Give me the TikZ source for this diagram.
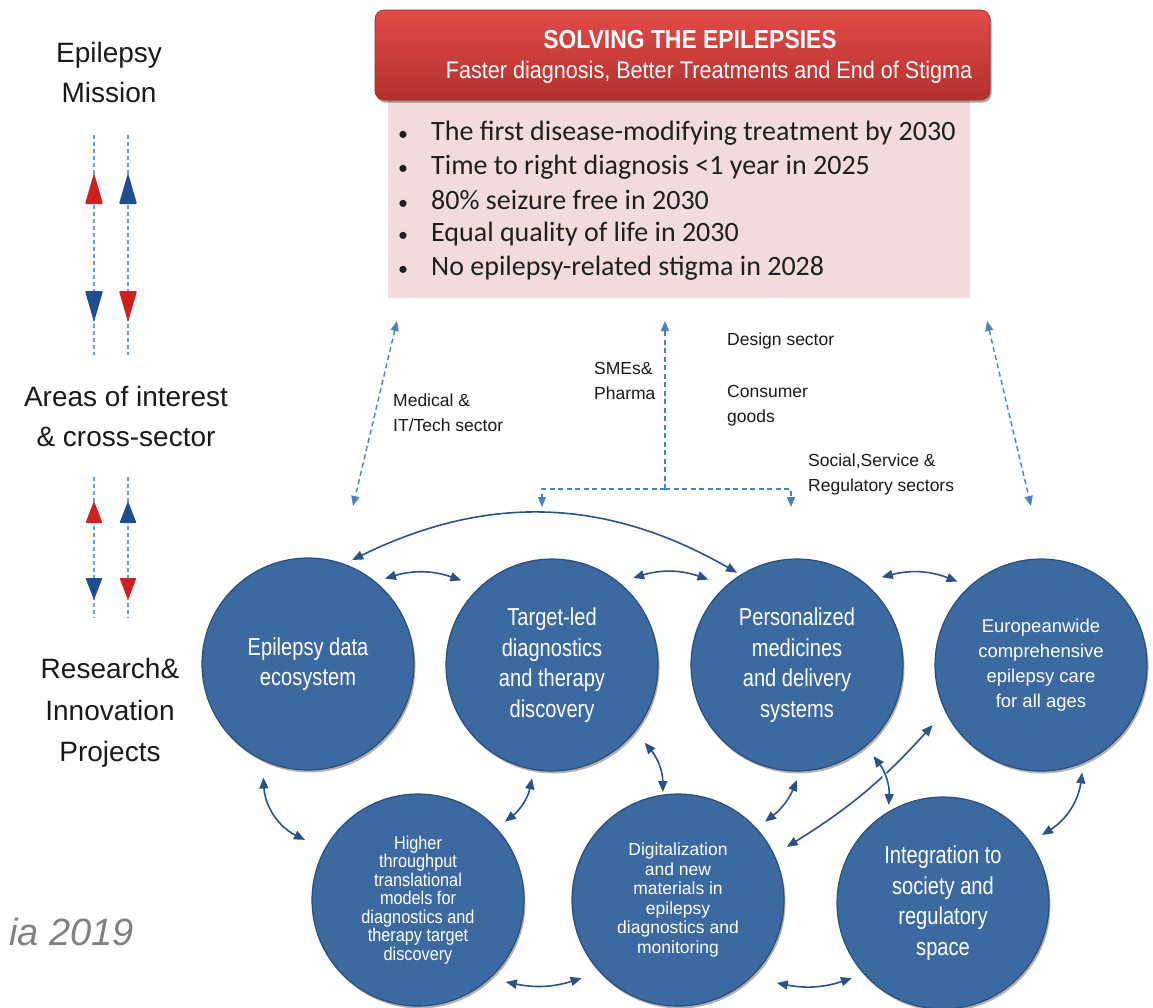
\documentclass[tikz,border=0pt]{standalone}
\usepackage{fontspec}
\setmainfont{Liberation Sans}
\newfontfamily\narrowf[FakeStretch=0.82]{Liberation Sans}
\newfontfamily\narrowh[FakeStretch=0.88]{Liberation Sans}
\newfontfamily\narrowk[FakeStretch=0.9]{Liberation Sans}
\newfontfamily\calib{Carlito}
\usetikzlibrary{arrows.meta,calc,shadows}
\definecolor{circblue}{HTML}{3B69A0}
\definecolor{circedge}{HTML}{2B4F7D}
\definecolor{connc}{HTML}{2A5286}
\definecolor{dashblue}{HTML}{4A80C0}
\definecolor{lightdash}{HTML}{6E9BD6}
\definecolor{hdrtop}{HTML}{E24C48}
\definecolor{hdrbot}{HTML}{B5302E}
\definecolor{pinkfill}{HTML}{F2DCDB}
\definecolor{trired}{HTML}{D01F1F}
\definecolor{triblue}{HTML}{1F4E8F}
\begin{document}
\begin{tikzpicture}[x=1pt,y=-1pt,
  lbl/.style={font=\fontsize{28}{40}\selectfont, text=black!90, align=center, inner sep=0pt},
  sect/.style={font=\fontsize{17.5}{25}\selectfont, text=black!90, align=left, anchor=west, inner sep=0pt},
  circ/.style={circle, minimum size=212pt, inner sep=0pt, fill=circblue, draw=circedge, line width=1.2pt,
    text=white, align=center, drop shadow={shadow xshift=1.5pt, shadow yshift=-2.5pt, opacity=0.3, fill=black}},
  bigtxt/.style={font=\narrowf\fontsize{24.5}{30.5}\selectfont},
  conn/.style={draw=connc, line width=1.6pt, arrows={Triangle[length=11pt,width=9pt]-Triangle[length=11pt,width=9pt]}},
  dsh/.style={draw=dashblue, line width=1.4pt, dash pattern=on 5pt off 3.5pt},
  dboth/.style={arrows={Triangle[length=10pt,width=8pt]-Triangle[length=10pt,width=8pt]}},
  dend/.style={arrows={-Triangle[length=10pt,width=8pt]}},
  ldash/.style={draw=lightdash, line width=1.3pt, dash pattern=on 4pt off 3pt},
  bul/.style={font=\calib\fontsize{28}{34}\selectfont, text=black!88, anchor=west, inner sep=0pt},
  hdrtxt/.style={text=white, inner sep=0pt}
]
\useasboundingbox (0,0) rectangle (1153,1007);

% ---------- left column ----------
\node[lbl] (mission) at (109,72) {Epilepsy\\Mission};
\node[lbl] (areas) at (126,416) {Areas of interest\\\& cross-sector};
\node[lbl,font=\fontsize{28}{41.5}\selectfont] (research) at (110,713) {Research\&\\Innovation\\Projects};

\coordinate (la1) at (94,135); \coordinate (la2) at (94,355);
\coordinate (lb1) at (128,135); \coordinate (lb2) at (128,355);
\draw[ldash] (la1) -- (la2);
\draw[ldash] (lb1) -- (lb2);
\fill[trired, rounded corners=1pt] (85,204) -- (103,204) -- (94,173) -- cycle;
\fill[triblue, rounded corners=1pt] (119,204) -- (137,204) -- (128,173) -- cycle;
\fill[triblue, rounded corners=1pt] (85,291) -- (103,291) -- (94,322) -- cycle;
\fill[trired, rounded corners=1pt] (119,291) -- (137,291) -- (128,322) -- cycle;

\coordinate (lc1) at (94,477); \coordinate (lc2) at (94,618);
\coordinate (ld1) at (128,477); \coordinate (ld2) at (128,618);
\draw[ldash] (lc1) -- (lc2);
\draw[ldash] (ld1) -- (ld2);
\fill[trired, rounded corners=1pt] (85.5,523) -- (102.5,523) -- (94,501) -- cycle;
\fill[triblue, rounded corners=1pt] (119.5,523) -- (136.5,523) -- (128,501) -- cycle;
\fill[triblue, rounded corners=1pt] (85.5,578) -- (102.5,578) -- (94,600) -- cycle;
\fill[trired, rounded corners=1pt] (119.5,578) -- (136.5,578) -- (128,600) -- cycle;

\node[anchor=east, font=\itshape\fontsize{38}{40}\selectfont, text=black!50, inner sep=0pt] (cite) at (134,932) {ia 2019};

% ---------- mission boxes ----------
\node[fill=pinkfill, minimum width=582pt, minimum height=203pt, inner sep=0pt] (goals) at (679,196.5) {};
\node[rectangle, rounded corners=9pt, minimum width=615pt, minimum height=90pt, inner sep=0pt,
  top color=hdrtop, bottom color=hdrbot, draw=hdrbot!85!black, line width=0.6pt,
  drop shadow={shadow xshift=1.5pt, shadow yshift=-2.5pt, opacity=0.35, fill=black}] (hdr) at (682.5,55) {};
\node[hdrtxt, font=\narrowh\bfseries\fontsize{26}{30}\selectfont] (hdr1) at (690,40) {SOLVING THE EPILEPSIES};
\node[hdrtxt, font=\narrowk\fontsize{24}{30}\selectfont] (hdr2) at (709,72) {Faster diagnosis, Better Treatments and End of Stigma};

\node[bul] (g1) at (398,133) {\makebox[33pt][l]{\fontsize{20}{20}\selectfont•}The first disease-modifying treatment by 2030};
\node[bul] (g2) at (398,167) {\makebox[33pt][l]{\fontsize{20}{20}\selectfont•}Time to right diagnosis <1 year in 2025};
\node[bul] (g3) at (398,200) {\makebox[33pt][l]{\fontsize{20}{20}\selectfont•}80\% seizure free in 2030};
\node[bul] (g4) at (398,234) {\makebox[33pt][l]{\fontsize{20}{20}\selectfont•}Equal quality of life in 2030};
\node[bul] (g5) at (398,268) {\makebox[33pt][l]{\fontsize{20}{20}\selectfont•}No epilepsy-related stigma in 2028};

% ---------- sector labels ----------
\node[sect] (med) at (393,412.5) {Medical \&\\IT/Tech sector};
\node[sect] (sme) at (594,380.5) {SMEs\&\\Pharma};
\node[sect] (des) at (727,341) {Design sector};
\node[sect] (con) at (727,405.5) {Consumer\\goods};
\node[sect] (soc) at (808,474.5) {Social,Service \&\\Regulatory sectors};

% ---------- dashed sector connectors ----------
\coordinate (ltop) at (397,321); \coordinate (lbot) at (353,506);
\coordinate (mtop) at (665,321); \coordinate (mj) at (665,489);
\coordinate (mleft) at (542,507); \coordinate (mright) at (791,507);
\coordinate (rtop) at (987,321); \coordinate (rbot) at (1031,506);
\draw[dsh,dboth] (ltop) -- (lbot);
\draw[dsh,dboth] (rtop) -- (rbot);
\draw[dsh,dend] (mj) -- (mtop);
\draw[dsh,dend] (mj) -| (mleft);
\draw[dsh,dend] (mj) -| (mright);

% ---------- circles ----------
\node[circ, bigtxt] (c1) at (308,664) {Epilepsy data\\ecosystem};
\node[circ, bigtxt] (c2) at (552,665) {Target-led\\diagnostics\\and therapy\\discovery};
\node[circ, bigtxt] (c3) at (797,665) {Personalized\\medicines\\and delivery\\systems};
\node[circ, font=\fontsize{18.5}{25}\selectfont] (c4) at (1041,665) {Europeanwide\\comprehensive\\epilepsy care\\for all ages};
\node[circ, font=\narrowh\fontsize{18.5}{18.5}\selectfont] (c5) at (418,900) {Higher\\throughput\\translational\\models for\\diagnostics and\\therapy target\\discovery};
\node[circ, font=\fontsize{17.5}{19.6}\selectfont] (c6) at (678,900) {Digitalization\\and new\\materials in\\epilepsy\\diagnostics and\\monitoring};
\node[circ, bigtxt] (c7) at (943,903) {Integration to\\society and\\regulatory\\space};

% ---------- solid connectors ----------
\draw[conn] ($(c1.center)+(67:113pt)$) to[bend left=28] ($(c3.center)+(123:110pt)$);
\draw[conn] ($(c1.center)+(48:115pt)$) to[bend left=18] ($(c2.center)+(137:124pt)$);
\draw[conn] ($(c2.center)+(47:119pt)$) to[bend left=18] ($(c3.center)+(136:123pt)$);
\draw[conn] ($(c3.center)+(46:122pt)$) to[bend left=18] ($(c4.center)+(135:118pt)$);
\draw[conn] ($(c1.center)+(248.5:122pt)$) to[bend right=30] ($(c5.center)+(152:128pt)$);
\draw[conn] ($(c2.center)+(260:115pt)$) to[bend left=20] ($(c5.center)+(42:117pt)$);
\draw[conn] ($(c2.center)+(320:121pt)$) to[bend left=20] ($(c6.center)+(98:109pt)$);
\draw[conn] ($(c3.center)+(270:115pt)$) to[bend left=15] ($(c6.center)+(42:117pt)$);
\draw[conn] ($(c6.center)+(26:121pt)$) to[bend right=8] ($(c4.center)+(209:124pt)$);
\draw[conn, preaction={draw=white, line width=5pt, arrows=-}] ($(c3.center)+(310:119pt)$) to[bend left=20] ($(c7.center)+(119:112pt)$);
\draw[conn] ($(c4.center)+(291:115pt)$) to[bend left=25] ($(c7.center)+(34.5:120pt)$);
\draw[conn] ($(c5.center)+(317:120pt)$) to[bend right=15] ($(c6.center)+(219:124pt)$);
\draw[conn] ($(c6.center)+(320:129pt)$) to[bend right=15] ($(c7.center)+(219.5:118pt)$);
\end{tikzpicture}
\end{document}
